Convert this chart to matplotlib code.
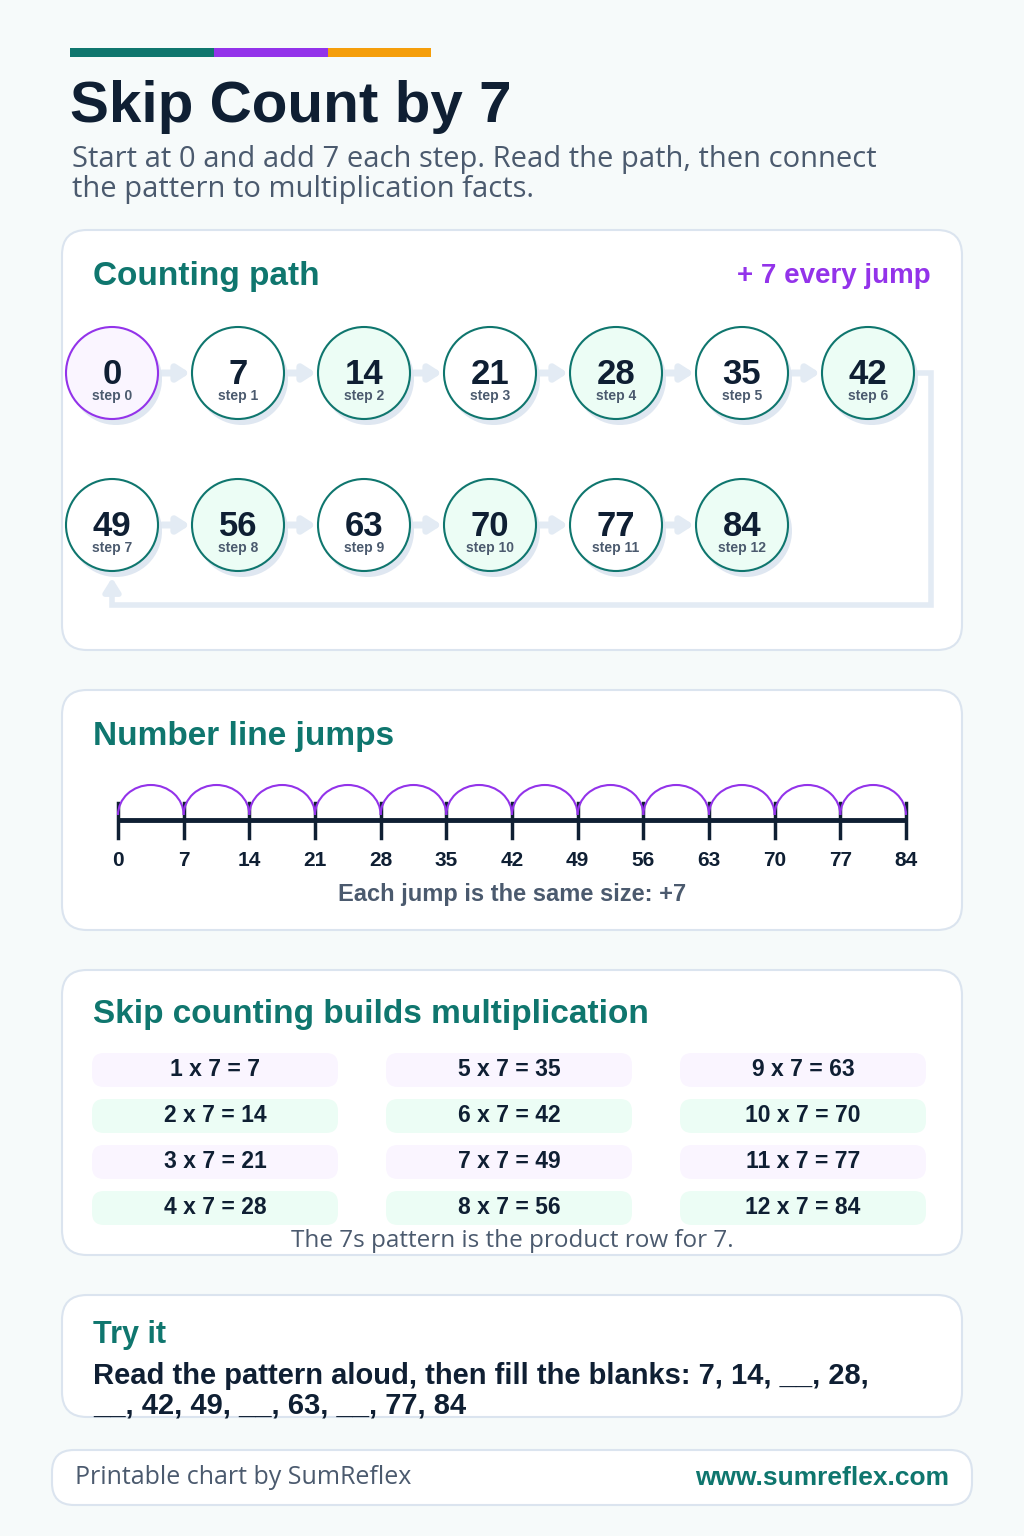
import matplotlib
matplotlib.use("Agg")
import matplotlib.pyplot as plt
from matplotlib.patches import FancyBboxPatch, Circle, Rectangle, Arc

# ---- data ----
values = [0, 7, 14, 21, 28, 35, 42, 49, 56, 63, 70, 77, 84]
step_labels = ["step %d" % i for i in range(13)]
line_ticks = [0, 7, 14, 21, 28, 35, 42, 49, 56, 63, 70, 77, 84]
factors = [1, 2, 3, 4, 5, 6, 7, 8, 9, 10, 11, 12]
products = [7, 14, 21, 28, 35, 42, 49, 56, 63, 70, 77, 84]

TEAL = "#0f766e"
PURPLE = "#9333ea"
ORANGE = "#f59e0b"
DARK = "#0f1f33"
GRAY = "#4b5a6e"
BORDER = "#dbe4ef"
LIGHT = "#e3ebf4"
GREEN_BG = "#ecfdf5"
PURPLE_BG = "#faf5ff"

HEAD = ["Liberation Sans", "DejaVu Sans"]
BODY = ["Open Sans", "DejaVu Sans"]

fig = plt.figure(figsize=(10.24, 15.36), dpi=100)
fig.patch.set_facecolor("#f6fafa")
ax = fig.add_axes([0, 0, 1, 1])
ax.set_xlim(0, 1024)
ax.set_ylim(1536, 0)
ax.axis("off")


def card(x0, y0, x1, y1, r=25):
  ax.add_patch(FancyBboxPatch((x0, y0), x1 - x0, y1 - y0,
                              boxstyle="round,pad=0,rounding_size=%d" % r,
                              fc="white", ec=BORDER, lw=1.5, zorder=1))


# header bar
ax.add_patch(Rectangle((70, 48), 144, 9, color=TEAL, lw=0))
ax.add_patch(Rectangle((214, 48), 114, 9, color=PURPLE, lw=0))
ax.add_patch(Rectangle((328, 48), 103, 9, color=ORANGE, lw=0))

ax.text(70, 107, "Skip Count by 7", fontsize=42, fontweight="bold",
        family=HEAD, color=DARK, va="center", ha="left")
ax.text(72, 159, "Start at 0 and add 7 each step. Read the path, then connect",
        fontsize=21, family=BODY, color=GRAY, va="center")
ax.text(72, 189, "the pattern to multiplication facts.",
        fontsize=21, family=BODY, color=GRAY, va="center")

# ---- counting path ----
card(62, 230, 962, 650)
ax.text(93, 276, "Counting path", fontsize=24, fontweight="bold",
        family=HEAD, color=TEAL, va="center")
ax.text(931, 276, "+ 7 every jump", fontsize=20, fontweight="bold",
        family=HEAD, color=PURPLE, va="center", ha="right")

R = 46
x_first, dx = 112, 126
row_y = [373, 525]
pos = []
for i, v in enumerate(values):
  row = i // 7
  col = i % 7
  pos.append((x_first + col * dx, row_y[row]))

# loop connector from the end of row 1 back to the start of row 2
ax.plot([pos[6][0] + R, 931, 931, pos[7][0], pos[7][0]],
        [row_y[0], row_y[0], 605, 605, 590],
        color=LIGHT, lw=4, solid_joinstyle="miter", zorder=2)
ax.annotate("", xy=(pos[7][0], pos[7][1] + R + 4), xytext=(pos[7][0], 592),
            arrowprops=dict(arrowstyle="-|>,head_width=0.5,head_length=0.8",
                            color=LIGHT, lw=4), zorder=2)

for i in range(len(values) - 1):
  if i == 6:
    continue
  (xa, ya), (xb, yb) = pos[i], pos[i + 1]
  ax.annotate("", xy=(xb - R - 2, yb), xytext=(xa + R + 4, ya),
              arrowprops=dict(arrowstyle="-|>,head_width=0.45,head_length=0.7",
                              color=LIGHT, lw=5, shrinkA=0, shrinkB=0), zorder=2)

for i, (v, lab) in enumerate(zip(values, step_labels)):
  x, y = pos[i]
  if i == 0:
    fc, ec = PURPLE_BG, PURPLE
  elif i % 2 == 0:
    fc, ec = GREEN_BG, TEAL
  else:
    fc, ec = "white", TEAL
  ax.add_patch(Circle((x + 4, y + 6), R, color="#dfe7f1", lw=0, zorder=3))
  ax.add_patch(Circle((x, y), R, fc=fc, ec=ec, lw=1.5, zorder=4))
  ax.text(x, y + 1, str(v), fontsize=25, fontweight="bold", family=HEAD,
          color=DARK, ha="center", va="center", zorder=5)
  ax.text(x, y + 23, lab, fontsize=10, fontweight="bold", family=HEAD,
          color=GRAY, ha="center", va="center", zorder=5)

# ---- number line ----
card(62, 690, 962, 930)
ax.text(93, 736, "Number line jumps", fontsize=24, fontweight="bold",
        family=HEAD, color=TEAL, va="center")
lx0, lx1, ly = 118, 906, 820
scale = (lx1 - lx0) / float(line_ticks[-1])
ax.plot([lx0, lx1], [ly, ly], color=DARK, lw=3.5, solid_capstyle="butt", zorder=3)
for t in line_ticks:
  tx = lx0 + t * scale
  ax.plot([tx, tx], [803, 838], color=DARK, lw=2.5, zorder=3)
  ax.text(tx, 860, str(t), fontsize=15, fontweight="bold", family=HEAD,
          color=DARK, ha="center", va="center")
for a, b in zip(line_ticks[:-1], line_ticks[1:]):
  xa, xb = lx0 + a * scale, lx0 + b * scale
  ax.add_patch(Arc(((xa + xb) / 2, 815), xb - xa, 60, theta1=180, theta2=360,
                   color=PURPLE, lw=1.5, zorder=4))
ax.text(512, 895, "Each jump is the same size: +7", fontsize=17,
        fontweight="bold", family=HEAD, color=GRAY, ha="center", va="center")

# ---- multiplication facts ----
card(62, 970, 962, 1255)
ax.text(93, 1015, "Skip counting builds multiplication", fontsize=24,
        fontweight="bold", family=HEAD, color=TEAL, va="center")
col_x = [92, 386, 680]
cell_w, cell_h = 246, 34
row_c = [1070, 1116, 1162, 1208]
for k, (f, p) in enumerate(zip(factors, products)):
  c, r = k // 4, k % 4
  fc = PURPLE_BG if r % 2 == 0 else GREEN_BG
  ax.add_patch(FancyBboxPatch((col_x[c], row_c[r] - cell_h / 2), cell_w, cell_h,
                              boxstyle="round,pad=0,rounding_size=12",
                              fc=fc, ec="none", zorder=2))
  ax.text(col_x[c] + cell_w / 2, row_c[r], "%d x 7 = %d" % (f, p),
          fontsize=16.5, fontweight="bold", family=HEAD, color=DARK,
          ha="center", va="center", zorder=3)
ax.text(512, 1241, "The 7s pattern is the product row for 7.", fontsize=17.5,
        family=BODY, color=GRAY, ha="center", va="center")

# ---- try it ----
card(62, 1295, 962, 1417)
ax.text(93, 1335, "Try it", fontsize=22, fontweight="bold", family=HEAD,
        color=TEAL, va="center")
ax.text(93, 1376, "Read the pattern aloud, then fill the blanks: 7, 14, __, 28,",
        fontsize=21, fontweight="bold", family=HEAD, color=DARK, va="center")
ax.text(93, 1406, "__, 42, 49, __, 63, __, 77, 84",
        fontsize=21, fontweight="bold", family=HEAD, color=DARK, va="center")

# ---- footer ----
card(52, 1450, 972, 1505, r=22)
ax.text(75, 1478, "Printable chart by SumReflex", fontsize=18, family=BODY,
        color=GRAY, va="center")
ax.text(949, 1478, "www.sumreflex.com", fontsize=19, fontweight="bold",
        family=HEAD, color=TEAL, va="center", ha="right")

fig.savefig("out.png", dpi=100, facecolor=fig.get_facecolor())
